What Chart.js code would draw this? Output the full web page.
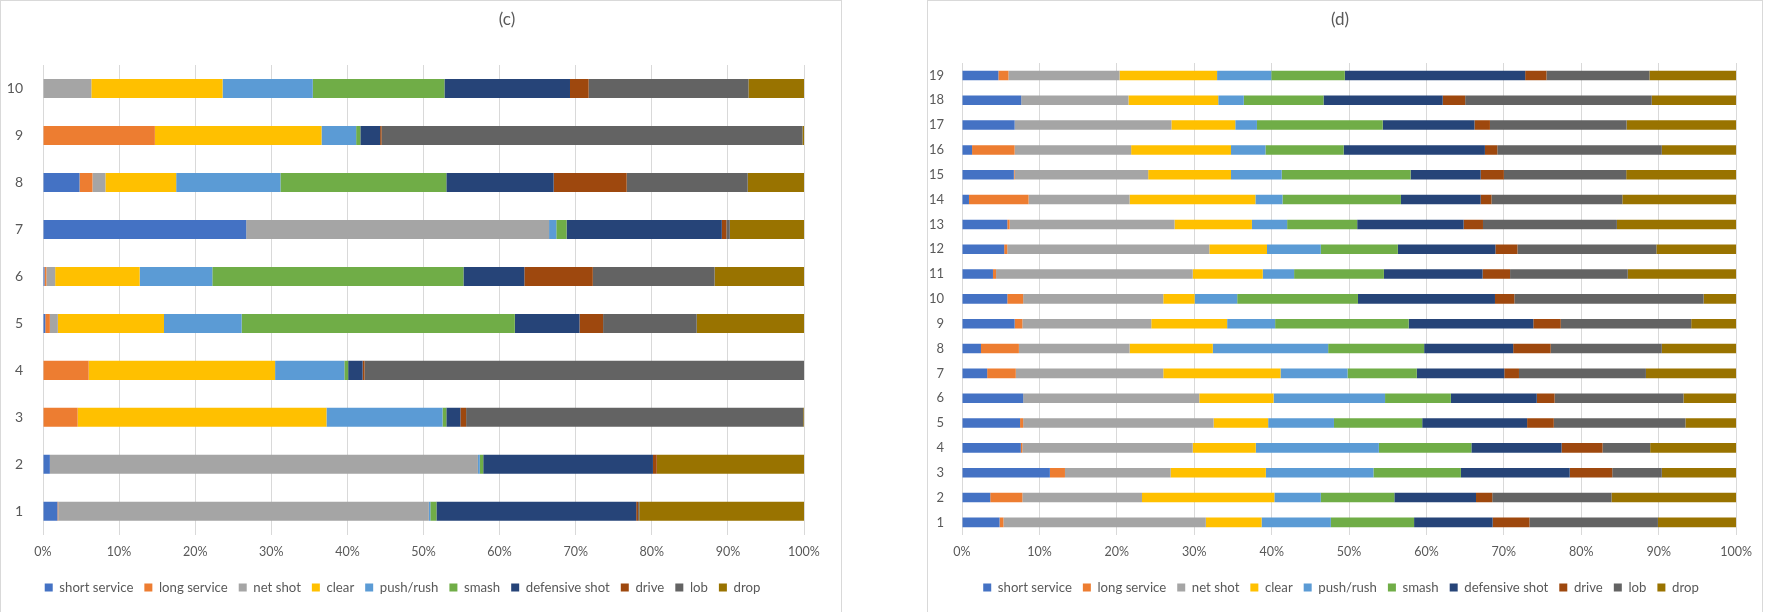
<!DOCTYPE html>
<html>
<head>
<meta charset="utf-8">
<script src="https://cdn.jsdelivr.net/npm/chart.js@4.4.1/dist/chart.umd.min.js"></script>
<style>
  html, body { margin: 0; padding: 0; background: #ffffff; }
  body { width: 1769px; height: 612px; position: relative; overflow: hidden; font-family: Lato, sans-serif; }
  .panel { position: absolute; top: 0; height: 640px; border: 1px solid #d9d9d9; box-sizing: border-box; background: #fff; }
  #panelC { left: 0; width: 842px; }
  #panelD { left: 927px; width: 836px; }
  .panel .box { position: absolute; left: 0; top: 0; height: 612px; }
  #panelC .box { width: 840px; }
  #panelD .box { width: 834px; }
  .title { position: absolute; top: 8px; font-size: 17px; color: #595959; transform: translateX(-50%); }
</style>
</head>
<body>
<div class="panel" id="panelC"><div class="box"><canvas id="chartC"></canvas></div></div>
<div class="panel" id="panelD"><div class="box"><canvas id="chartD"></canvas></div></div>
<div class="title" style="left:507px">(c)</div>
<div class="title" style="left:1340px">(d)</div>
<script>
// shot types and colours (Office palette)
const shotTypes = ['short service', 'long service', 'net shot', 'clear', 'push/rush', 'smash', 'defensive shot', 'drive', 'lob', 'drop'];
const shotColors = ['#4472C4', '#ED7D31', '#A5A5A5', '#FFC000', '#5B9BD5', '#70AD47', '#264478', '#9E480E', '#636363', '#997300'];

// panel (c): rows 1..10, share of each shot (%)
const cLabels = ['1', '2', '3', '4', '5', '6', '7', '8', '9', '10'];
const cShort  = [1.9, 0.9, 0, 0, 0.3, 0.2, 26.7, 4.8, 0, 0];
const cLong   = [0.1, 0, 4.55, 6.0, 0.6, 0.25, 0, 1.7, 14.7, 0];
const cNet    = [48.7, 56.25, 0, 0, 1.05, 1.15, 39.8, 1.7, 0, 6.35];
const cClear  = [0, 0, 32.7, 24.5, 13.95, 11.1, 0, 9.3, 21.9, 17.25];
const cPush   = [0.2, 0.25, 15.25, 9.1, 10.2, 9.55, 0.95, 13.7, 4.55, 11.85];
const cSmash  = [0.8, 0.45, 0.5, 0.5, 35.9, 33.0, 1.35, 21.8, 0.55, 17.3];
const cDef    = [26.25, 22.3, 1.85, 1.9, 8.5, 8.0, 20.4, 14.1, 2.6, 16.5];
const cDrive  = [0.25, 0.5, 0.75, 0.25, 3.1, 9.0, 0.6, 9.6, 0.2, 2.45];
const cLob    = [0.15, 0, 44.3, 57.75, 12.3, 16.0, 0.45, 15.9, 55.3, 21.0];
const cDrop   = [21.65, 19.35, 0.1, 0, 14.1, 11.75, 9.75, 7.4, 0.2, 7.3];

// panel (d): rows 1..19
const dLabels = ['1', '2', '3', '4', '5', '6', '7', '8', '9', '10', '11', '12', '13', '14', '15', '16', '17', '18', '19'];
const dShort  = [4.85, 3.65, 11.35, 7.6, 7.5, 7.9, 3.25, 2.45, 6.8, 5.85, 4.0, 5.45, 5.85, 0.9, 6.7, 1.3, 6.8, 7.65, 4.7];
const dLong   = [0.5, 4.15, 1.95, 0.2, 0.4, 0, 3.7, 4.9, 1.0, 2.05, 0.4, 0.4, 0.3, 7.7, 0.1, 5.5, 0, 0, 1.3];
const dNet    = [26.15, 15.45, 13.65, 22.0, 24.6, 22.75, 19.05, 14.3, 16.65, 18.1, 25.4, 26.1, 21.3, 13.05, 17.25, 15.05, 20.25, 13.85, 14.35];
const dClear  = [7.2, 17.1, 12.3, 8.15, 7.05, 9.6, 15.15, 10.75, 9.8, 4.05, 9.05, 7.45, 10.0, 16.25, 10.7, 12.9, 8.25, 11.6, 12.6];
const dPush   = [8.95, 6.0, 13.9, 15.9, 8.5, 14.4, 8.65, 14.9, 6.2, 5.5, 4.05, 6.95, 4.55, 3.5, 6.55, 4.45, 2.8, 3.3, 7.0];
const dSmash  = [10.75, 9.5, 11.3, 11.95, 11.4, 8.5, 8.95, 12.4, 17.25, 15.6, 11.6, 9.95, 9.05, 15.3, 16.65, 10.1, 16.25, 10.3, 9.5];
const dDef    = [10.15, 10.55, 14.05, 11.65, 13.55, 11.1, 11.3, 11.5, 16.1, 17.7, 12.75, 12.6, 13.75, 10.3, 9.05, 18.25, 11.85, 15.4, 23.3];
const dDrive  = [4.75, 2.1, 5.5, 5.3, 3.45, 2.3, 1.9, 4.85, 3.55, 2.5, 3.55, 2.85, 2.5, 1.4, 3.0, 1.6, 2.0, 2.9, 2.75];
const dLob    = [16.6, 15.4, 6.4, 6.15, 17.0, 16.65, 16.4, 14.35, 16.85, 24.45, 15.2, 17.95, 17.3, 16.9, 15.8, 21.25, 17.65, 24.1, 13.3];
const dDrop   = [10.1, 16.1, 9.6, 11.1, 6.55, 6.8, 11.65, 9.6, 5.8, 4.2, 14.0, 10.3, 15.4, 14.7, 14.2, 9.6, 14.15, 10.9, 11.2];

const xTicks = [0, 10, 20, 30, 40, 50, 60, 70, 80, 90, 100];

const textColor = '#595959';
const gridColor = '#d9d9d9';

function buildDatasets(series, barPct) {
    return series.map((values, i) => ({
        label: shotTypes[i],
        data: values,
        backgroundColor: shotColors[i],
        borderWidth: 0,
        categoryPercentage: 1,
        barPercentage: barPct
    }));
}

function makeChart(id, labels, series, opts) {
    const ctx = document.getElementById(id);
    return new Chart(ctx.getContext('2d'), {
        type: 'bar',
        data: { labels: labels, datasets: buildDatasets(series, opts.barPct) },
        options: {
            indexAxis: 'y',
            responsive: true,
            maintainAspectRatio: false,
            animation: false,
            layout: { padding: opts.padding },
            plugins: {
                title: { display: false },
                tooltip: { enabled: false },
                legend: {
                    position: 'bottom',
                    labels: {
                        boxWidth: 8,
                        boxHeight: 8,
                        padding: 11,
                        color: textColor,
                        font: { family: 'Lato', size: 13.2 }
                    }
                }
            },
            scales: {
                x: {
                    stacked: true,
                    min: 0,
                    max: 100,
                    afterBuildTicks: s => { s.ticks = xTicks.map(v => ({ value: v })); },
                    ticks: { color: textColor, padding: 10, font: { family: 'Lato', size: 12.5 }, callback: v => v + '%' },
                    grid: { color: gridColor, drawTicks: false },
                    border: { display: false }
                },
                y: {
                    stacked: true,
                    reverse: true,
                    afterFit: s => { s.width = opts.yWidth; },
                    ticks: { color: textColor, padding: opts.yPad, font: { family: 'Lato', size: opts.yFont } },
                    grid: { display: false },
                    border: { display: true, color: gridColor }
                }
            }
        }
    });
}

makeChart('chartC', cLabels,
    [cShort, cLong, cNet, cClear, cPush, cSmash, cDef, cDrive, cLob, cDrop],
    { barPct: 0.405, padding: { top: 64, right: 37, left: 0, bottom: 9 }, yWidth: 42, yPad: 12, yFont: 14 });

makeChart('chartD', dLabels,
    [dShort, dLong, dNet, dClear, dPush, dSmash, dDef, dDrive, dLob, dDrop],
    { barPct: 0.385, padding: { top: 62, right: 8, left: 0, bottom: 9 }, yWidth: 34, yPad: 10, yFont: 13 });
</script>
</body>
</html>
